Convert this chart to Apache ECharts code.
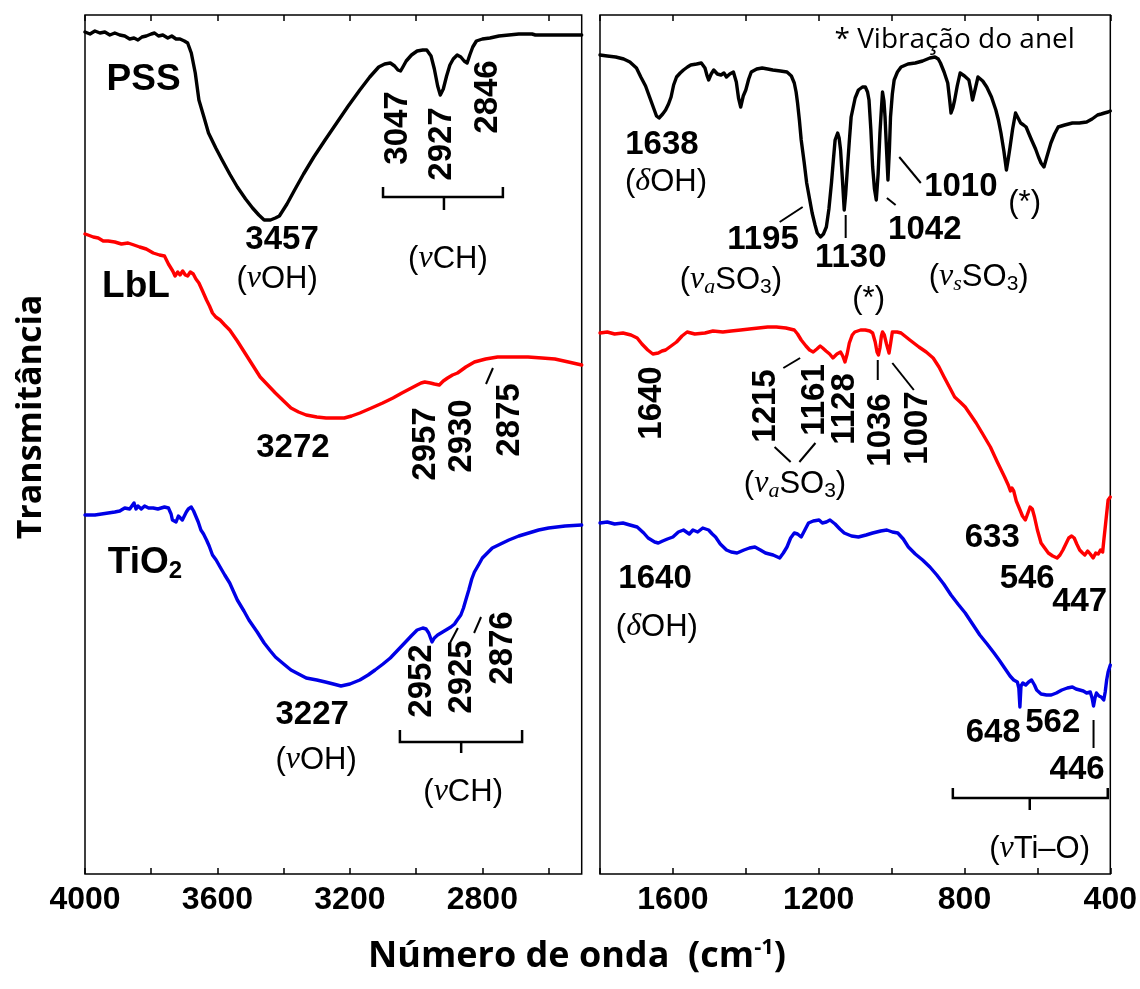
<!DOCTYPE html>
<html>
<head>
<meta charset="utf-8">
<script src="https://cdn.jsdelivr.net/npm/echarts@6/dist/echarts.min.js"></script>
<style>
  html, body { margin: 0; padding: 0; background: #fff; }
  #chart { width: 1140px; height: 989px; }
</style>
</head>
<body>
<div id="chart"></div>
<script>
// FTIR spectra: [wavenumber (cm-1), transmittance (offset, a.u.)]
// High-wavenumber window (4000-2500 cm-1)
const pssHigh = [[4000,84.2],[3985,84.0],[3970,84.3],[3955,84.1],[3940,84.2],[3925,83.9],[3910,84.1],[3895,83.9],[3880,83.8],[3865,83.5],[3852,83.6],[3840,83.4],[3828,83.7],[3815,83.8],[3800,84.0],[3790,84.1],[3778,83.8],[3765,83.9],[3750,83.6],[3738,83.8],[3725,83.5],[3713,83.5],[3700,83.3],[3690,83.1],[3679,82.1],[3667,80.1],[3656,77.4],[3640,75.6],[3627,74.1],[3605,72.6],[3586,71.4],[3563,70.0],[3540,68.7],[3515,67.5],[3494,66.6],[3475,65.9],[3459,65.4],[3440,65.4],[3425,65.6],[3413,65.8],[3390,67.0],[3367,68.4],[3340,70.0],[3309,71.7],[3275,73.4],[3240,75.1],[3205,76.8],[3170,78.4],[3140,79.7],[3113,80.7],[3095,81.0],[3078,81.1],[3065,80.8],[3055,80.4],[3047,80.3],[3040,80.7],[3030,81.3],[3014,81.9],[2997,82.3],[2980,82.4],[2968,82.4],[2955,81.8],[2945,80.5],[2935,78.8],[2927,77.9],[2918,78.5],[2908,79.8],[2898,80.9],[2888,81.5],[2876,81.9],[2865,81.7],[2855,81.3],[2846,81.1],[2838,81.9],[2829,82.7],[2818,83.3],[2800,83.5],[2777,83.6],[2750,83.8],[2720,83.9],[2690,84.0],[2650,84.0],[2640,83.9],[2600,83.9],[2550,83.9],[2500,83.9]];
const lblHigh = [[4000,64.0],[3991,63.9],[3975,63.7],[3960,63.6],[3945,63.3],[3930,63.3],[3910,63.2],[3890,63.0],[3870,63.1],[3852,62.9],[3835,62.7],[3815,62.5],[3794,62.1],[3775,61.9],[3760,61.8],[3754,61.6],[3748,61.0],[3742,61.2],[3735,60.3],[3728,59.8],[3720,60.2],[3713,59.9],[3705,60.3],[3697,59.9],[3690,59.8],[3682,60.2],[3673,60.0],[3665,59.5],[3656,59.1],[3645,58.3],[3633,57.4],[3624,56.8],[3615,56.1],[3605,55.7],[3592,55.4],[3578,54.9],[3563,54.4],[3540,53.3],[3517,52.1],[3494,50.9],[3471,49.7],[3448,48.9],[3425,48.1],[3400,47.3],[3378,46.6],[3355,46.2],[3332,45.9],[3300,45.7],[3272,45.6],[3245,45.6],[3217,45.6],[3195,45.8],[3170,46.1],[3135,46.6],[3101,47.1],[3070,47.6],[3043,48.1],[3020,48.5],[2997,48.9],[2985,49.1],[2974,49.2],[2957,49.1],[2945,49.0],[2930,48.9],[2918,49.3],[2905,49.6],[2890,49.9],[2875,50.1],[2850,50.7],[2824,51.2],[2790,51.5],[2754,51.7],[2700,51.7],[2662,51.7],[2620,51.6],[2581,51.5],[2540,51.2],[2500,50.9]];
const tio2High = [[4000,35.9],[3991,35.9],[3970,35.9],[3950,36.0],[3930,36.1],[3910,36.2],[3895,36.3],[3880,36.6],[3865,36.5],[3852,37.1],[3846,36.5],[3840,36.8],[3830,36.5],[3820,36.8],[3808,36.6],[3794,36.6],[3780,36.5],[3760,36.7],[3748,36.6],[3740,36.0],[3736,35.4],[3730,35.6],[3725,35.2],[3718,35.8],[3713,35.7],[3706,35.4],[3700,35.6],[3694,36.2],[3688,36.5],[3679,36.7],[3672,36.3],[3667,36.1],[3658,35.2],[3650,34.4],[3642,34.0],[3633,33.4],[3625,32.8],[3615,31.9],[3604,31.4],[3592,30.7],[3578,29.9],[3563,29.1],[3540,27.4],[3520,26.3],[3505,25.4],[3480,24.2],[3459,23.1],[3440,22.3],[3425,21.7],[3400,21.0],[3378,20.4],[3355,20.0],[3332,19.6],[3300,19.4],[3274,19.2],[3250,19.0],[3227,18.8],[3200,19.0],[3170,19.4],[3145,19.9],[3124,20.4],[3100,21.0],[3078,21.6],[3055,22.4],[3032,23.2],[3015,23.8],[2997,24.4],[2980,24.6],[2970,24.5],[2962,24.1],[2952,23.2],[2945,23.6],[2935,23.9],[2925,24.1],[2910,24.4],[2895,24.7],[2884,25.0],[2876,25.4],[2865,25.9],[2857,26.6],[2850,27.4],[2841,28.4],[2832,29.5],[2824,30.2],[2810,31.0],[2800,31.6],[2785,32.1],[2770,32.6],[2745,33.0],[2720,33.4],[2690,33.8],[2660,34.1],[2630,34.4],[2600,34.6],[2550,34.8],[2500,34.9]];

// Low-wavenumber window (1800-400 cm-1)
const pssLow = [[1800,81.9],[1780,81.8],[1757,81.7],[1735,81.5],[1718,81.2],[1700,80.6],[1688,79.7],[1675,78.8],[1664,77.7],[1652,76.5],[1645,75.8],[1638,75.6],[1628,76.0],[1620,76.4],[1612,77.0],[1605,77.7],[1598,78.9],[1590,79.7],[1580,80.1],[1571,80.4],[1560,80.7],[1551,80.9],[1535,81.0],[1522,81.1],[1512,80.6],[1506,79.8],[1502,79.4],[1495,80.0],[1488,80.4],[1478,80.0],[1468,79.9],[1460,80.1],[1453,79.7],[1444,80.0],[1434,80.2],[1426,79.2],[1420,77.6],[1414,76.7],[1407,77.8],[1400,78.4],[1392,79.5],[1385,80.2],[1370,80.5],[1355,80.6],[1340,80.5],[1326,80.4],[1305,80.3],[1287,80.2],[1275,79.8],[1267,79.1],[1262,78.2],[1258,77.1],[1253,75.4],[1248,73.4],[1240,71.2],[1233,69.1],[1225,67.5],[1218,66.1],[1210,64.9],[1204,64.1],[1195,63.7],[1187,64.0],[1179,64.7],[1172,66.5],[1165,69.1],[1160,71.3],[1155,73.4],[1148,74.1],[1144,73.6],[1140,72.4],[1135,69.5],[1130,66.4],[1126,68.0],[1121,70.7],[1116,73.3],[1111,75.7],[1100,77.6],[1091,78.4],[1080,78.7],[1072,78.7],[1066,78.2],[1062,77.4],[1057,74.5],[1052,70.7],[1047,68.5],[1042,67.4],[1037,70.0],[1032,74.1],[1028,76.5],[1025,78.2],[1021,77.3],[1018,75.7],[1014,72.5],[1010,69.4],[1006,72.5],[1003,75.7],[998,78.0],[993,79.4],[984,80.2],[974,80.7],[955,81.0],[935,81.1],[915,81.3],[895,81.6],[881,81.7],[872,81.5],[866,81.1],[856,80.2],[846,79.1],[841,77.5],[837,76.1],[832,76.6],[827,77.4],[820,78.8],[812,80.1],[800,79.8],[788,79.4],[783,78.5],[778,77.4],[770,78.6],[763,79.7],[750,79.3],[739,78.7],[726,77.7],[714,76.4],[707,75.4],[700,74.1],[692,72.3],[685,70.4],[680,71.5],[675,72.7],[668,74.5],[660,76.1],[653,75.6],[646,75.1],[638,74.9],[631,74.7],[623,74.0],[616,73.4],[605,72.5],[597,71.7],[590,71.1],[582,70.7],[575,71.6],[563,73.1],[553,74.0],[543,74.7],[525,74.9],[504,75.1],[485,75.1],[465,75.2],[450,75.5],[435,75.9],[425,76.0],[416,76.1],[406,76.2],[400,76.3]];
const lblLow = [[1800,54.1],[1780,54.2],[1760,54.0],[1737,54.1],[1715,53.9],[1698,53.6],[1685,53.0],[1669,52.4],[1655,52.0],[1640,52.1],[1630,52.3],[1620,52.4],[1605,52.8],[1590,53.2],[1575,53.8],[1561,54.2],[1540,54.0],[1512,54.1],[1490,54.3],[1463,54.2],[1440,54.3],[1414,54.4],[1390,54.5],[1365,54.6],[1340,54.7],[1316,54.7],[1290,54.6],[1267,54.4],[1258,54.0],[1248,53.4],[1235,52.8],[1225,52.4],[1215,52.2],[1205,52.5],[1196,52.8],[1189,52.6],[1180,52.3],[1170,52.0],[1161,51.6],[1150,52.0],[1140,52.2],[1134,51.8],[1128,51.2],[1122,52.0],[1116,53.1],[1108,53.9],[1101,54.2],[1085,54.4],[1072,54.4],[1060,54.3],[1052,54.1],[1045,53.2],[1040,52.2],[1036,51.9],[1032,52.6],[1028,53.8],[1025,54.2],[1020,53.9],[1014,53.0],[1007,52.1],[1003,53.0],[998,54.2],[985,54.2],[974,54.1],[950,53.4],[925,52.7],[905,52.2],[886,51.6],[870,50.7],[856,49.7],[840,48.6],[827,47.7],[812,47.2],[798,46.7],[783,45.9],[768,45.1],[750,44.0],[729,42.7],[710,41.2],[690,39.7],[680,38.9],[674,38.3],[670,38.6],[665,38.3],[658,37.3],[650,36.6],[641,35.8],[633,35.4],[627,36.0],[620,36.7],[614,36.5],[608,35.7],[600,34.4],[590,33.1],[580,32.6],[570,32.1],[558,31.8],[546,31.6],[538,31.9],[530,32.4],[522,33.0],[514,33.6],[506,33.8],[499,33.6],[492,33.0],[484,32.4],[476,32.1],[470,31.9],[462,32.3],[455,32.0],[447,31.6],[440,32.1],[433,32.0],[427,32.4],[421,32.2],[418,33.3],[413,35.0],[406,37.4],[400,37.7]];
const tio2Low = [[1800,35.1],[1780,35.2],[1760,35.0],[1737,35.1],[1718,34.9],[1698,34.7],[1680,34.1],[1668,33.6],[1659,33.4],[1650,33.2],[1640,33.1],[1628,33.3],[1615,33.5],[1600,33.7],[1585,34.2],[1571,34.4],[1555,34.0],[1545,34.4],[1532,34.2],[1518,34.6],[1502,34.4],[1492,34.0],[1483,33.7],[1470,33.0],[1453,32.4],[1440,32.2],[1424,32.1],[1405,32.4],[1390,32.6],[1375,32.7],[1360,32.4],[1346,32.1],[1325,31.9],[1307,31.6],[1297,32.1],[1287,32.7],[1277,33.6],[1267,34.1],[1258,34.0],[1248,33.7],[1238,34.4],[1228,35.1],[1215,35.3],[1199,35.4],[1190,35.1],[1179,35.2],[1169,35.4],[1155,35.0],[1142,34.5],[1130,34.1],[1110,33.8],[1091,33.7],[1070,33.9],[1052,34.1],[1030,34.3],[1013,34.4],[998,34.2],[983,34.1],[968,33.5],[954,32.7],[935,32.0],[915,31.4],[895,30.7],[876,29.9],[857,29.0],[837,27.9],[818,27.0],[798,26.1],[778,25.0],[758,23.9],[738,23.0],[719,22.1],[705,21.4],[690,20.6],[675,19.8],[665,19.4],[655,19.2],[651,18.6],[648,16.7],[645,18.8],[640,19.1],[632,18.9],[624,19.2],[616,19.4],[608,18.9],[602,18.4],[590,18.0],[575,17.9],[562,17.9],[548,18.1],[533,18.4],[518,18.6],[504,18.7],[494,18.5],[484,18.4],[474,18.3],[465,18.1],[455,18.2],[450,17.6],[446,16.8],[442,17.6],[438,18.1],[431,17.8],[425,17.7],[418,17.4],[414,18.2],[410,19.4],[406,20.2],[400,20.9]];

const sampleNames = ['PSS', 'LbL', 'TiO{s|2}'];
const sampleColors = ['#000000', '#ff0000', '#0000e6'];

// Axis ticks and labels
const highTicks = [2600, 2800, 3000, 3200, 3400, 3600, 3800, 4000];
const highLabels = [2800, 3200, 3600, 4000];
const lowTicks = [400, 600, 800, 1000, 1200, 1400, 1600, 1800];
const lowLabels = [400, 800, 1200, 1600];

// Band assignments: panel (0 high / 1 low), anchor [wavenumber, T], text, kind, rotated
const bandLabels = [
  [0, [3823, 79.4], sampleNames[0], 'name', false],
  [0, [3846, 58.7], sampleNames[1], 'name', false],
  [0, [3819, 31.1], sampleNames[2], 'name', false],
  [0, [3405, 63.4], '3457', 'num', false],
  [0, [3420, 59.5], '({v|v}OH)', 'par', false],
  [0, [3055, 74.6], '3047', 'num', true],
  [0, [2922, 73.0], '2927', 'num', true],
  [0, [2783, 77.7], '2846', 'num', true],
  [0, [2904, 61.5], '({v|v}CH)', 'par', false],
  [0, [3372, 42.6], '3272', 'num', false],
  [0, [2970, 43.0], '2957', 'num', true],
  [0, [2861, 43.8], '2930', 'num', true],
  [0, [2717, 45.4], '2875', 'num', true],
  [0, [3314, 15.9], '3227', 'num', false],
  [0, [3302, 11.4], '({v|v}OH)', 'par', false],
  [0, [2982, 19.3], '2952', 'num', true],
  [0, [2861, 19.7], '2925', 'num', true],
  [0, [2738, 22.6], '2876', 'num', true],
  [0, [2858, 8.2], '({v|v}CH)', 'par', false],
  [1, [827, 83.4], '* Vibração do anel', 'note', false],
  [1, [1630, 72.9], '1638', 'num', false],
  [1, [1619, 69.2], '({v|δ}OH)', 'par', false],
  [1, [1353, 63.4], '1195', 'num', false],
  [1, [1441, 59.4], '({v|v}{vs|a}SO{s|3})', 'par', false],
  [1, [1112, 61.6], '1130', 'num', false],
  [1, [1063, 57.5], '(*)', 'par', false],
  [1, [909, 64.4], '1042', 'num', false],
  [1, [761, 59.7], '({v|v}{vs|s}SO{s|3})', 'par', false],
  [1, [810, 68.7], '1010', 'num', false],
  [1, [635, 67.1], '(*)', 'par', false],
  [1, [1657, 47.1], '1640', 'num', true],
  [1, [1345, 46.8], '1215', 'num', true],
  [1, [1211, 47.4], '1161', 'num', true],
  [1, [1128, 46.5], '1128', 'num', true],
  [1, [1030, 44.4], '1036', 'num', true],
  [1, [927, 44.6], '1007', 'num', true],
  [1, [1265, 39.0], '({v|v}{vs|a}SO{s|3})', 'par', false],
  [1, [724, 33.6], '633', 'num', false],
  [1, [628, 29.5], '546', 'num', false],
  [1, [484, 27.2], '447', 'num', false],
  [1, [1649, 29.5], '1640', 'num', false],
  [1, [1644, 24.7], '({v|δ}OH)', 'par', false],
  [1, [721, 14.1], '648', 'num', false],
  [1, [558, 15.1], '562', 'num', false],
  [1, [491, 10.4], '446', 'num', false],
  [1, [594, 2.5], '({v|v}Ti–O)', 'par', false]
];

// Leader strokes from band to its label
const leaders = [
  [0, [[2789, 49.0], [2768, 50.6]]],
  [0, [[2901, 22.9], [2874, 24.6]]],
  [0, [[2825, 24.1], [2804, 25.7]]],
  [1, [[1307, 65.2], [1244, 66.7]]],
  [1, [[1126, 65.9], [1126, 63.6]]],
  [1, [[1013, 67.6], [989, 66.9]]],
  [1, [[979, 71.7], [920, 69.1]]],
  [1, [[1297, 50.6], [1251, 51.6]]],
  [1, [[1321, 42.7], [1277, 41.2]]],
  [1, [[1253, 41.2], [1209, 43.1]]],
  [1, [[1038, 51.4], [1038, 49.4]]],
  [1, [[998, 51.1], [939, 48.4]]],
  [1, [[446, 15.4], [446, 12.6]]]
];

// Group braces: panel, from, to, base T, arm T, centre, stem T
const braces = [
  [0, 3100, 2738, 67.7, 68.7, 2916, 66.4],
  [0, 3049, 2680, 13.2, 14.4, 2864, 12.1],
  [1, 832, 407, 7.6, 8.6, 621, 6.4]
];

const numFont = 'Liberation Sans, Arial, sans-serif';
const titleFont = 'Open Sans, Noto Sans, sans-serif';

function xAxisPair(gridIndex, min, max, ticks, labels) {
  const tick = { show: true, inside: true, length: 6, customValues: ticks, lineStyle: { color: '#000', width: 1.5 } };
  return [
    {
      gridIndex, type: 'value', min, max, inverse: true, position: 'bottom',
      axisLine: { show: false }, splitLine: { show: false },
      axisTick: tick,
      axisLabel: {
        customValues: labels, formatter: v => String(v),
        fontFamily: numFont, fontWeight: 'bold', fontSize: 32, color: '#000', margin: 10
      }
    },
    {
      gridIndex, type: 'value', min, max, inverse: true, position: 'top',
      axisLine: { show: false }, splitLine: { show: false },
      axisTick: tick, axisLabel: { show: false }
    }
  ];
}

const grids = [
  { left: 85, top: 15, width: 496.7, height: 859 },
  { left: 600, top: 15, width: 510.7, height: 859 }
].map(g => Object.assign(g, { show: true, borderColor: '#000', borderWidth: 1.5, backgroundColor: 'transparent' }));

const spectra = [pssHigh, lblHigh, tio2High, pssLow, lblLow, tio2Low];

const option = {
  animation: false,
  backgroundColor: '#fff',
  grid: grids,
  xAxis: [
    ...xAxisPair(0, 2500, 4000, highTicks, highLabels),
    ...xAxisPair(1, 400, 1800, lowTicks, lowLabels)
  ],
  yAxis: [
    { gridIndex: 0, type: 'value', min: 0, max: 85.9, show: false },
    { gridIndex: 1, type: 'value', min: 0, max: 85.9, show: false }
  ],
  series: spectra.map((data, i) => ({
    type: 'line',
    xAxisIndex: i < 3 ? 0 : 2,
    yAxisIndex: i < 3 ? 0 : 1,
    data,
    showSymbol: false,
    symbol: 'none',
    silent: true,
    lineStyle: { color: sampleColors[i % 3], width: 3.4, join: 'round', cap: 'round' }
  }))
};

const chart = echarts.init(document.getElementById('chart'));
chart.setOption(option);

const toPx = (panel, p) => chart.convertToPixel({ seriesIndex: panel === 0 ? 0 : 3 }, p);

const richStyles = {
  v: { fontFamily: 'Liberation Serif, serif', fontStyle: 'italic', fontSize: 32, lineHeight: 36 },
  vs: { fontFamily: 'Liberation Serif, serif', fontStyle: 'italic', fontSize: 22, lineHeight: 20, verticalAlign: 'bottom' },
  s: { fontFamily: numFont, fontSize: 21, lineHeight: 20, verticalAlign: 'bottom' }
};

const kindStyle = {
  num: { fontFamily: numFont, fontWeight: 'bold', fontSize: 33, lineHeight: 36 },
  name: { fontFamily: numFont, fontWeight: 'bold', fontSize: 37, lineHeight: 40 },
  par: { fontFamily: numFont, fontWeight: 'normal', fontSize: 31, lineHeight: 36 },
  note: { fontFamily: titleFont, fontWeight: 'normal', fontSize: 28, lineHeight: 32 }
};

const graphics = [];

bandLabels.forEach(([panel, at, text, kind, rotated]) => {
  const [x, y] = toPx(panel, at);
  const base = kindStyle[kind];
  const rich = {
    v: Object.assign({}, richStyles.v),
    vs: Object.assign({}, richStyles.vs),
    s: Object.assign({}, richStyles.s, { fontWeight: base.fontWeight, fontSize: kind === 'name' ? 24 : 21, lineHeight: kind === 'name' ? 22 : 20 })
  };
  graphics.push({
    type: 'text', x, y, rotation: rotated ? Math.PI / 2 : 0, silent: true, z: 50,
    style: Object.assign({ text, fill: '#000', align: 'center', verticalAlign: 'middle', rich }, base)
  });
});

leaders.forEach(([panel, pts]) => {
  graphics.push({
    type: 'polyline', silent: true, z: 50,
    shape: { points: pts.map(p => toPx(panel, p)) },
    style: { stroke: '#000', lineWidth: 2, fill: null }
  });
});

braces.forEach(([panel, from, to, base, arm, centre, stem]) => {
  graphics.push({
    type: 'polyline', silent: true, z: 50,
    shape: { points: [[from, arm], [from, base], [to, base], [to, arm]].map(p => toPx(panel, p)) },
    style: { stroke: '#000', lineWidth: 2.5, fill: null }
  });
  graphics.push({
    type: 'polyline', silent: true, z: 50,
    shape: { points: [[centre, base], [centre, stem]].map(p => toPx(panel, p)) },
    style: { stroke: '#000', lineWidth: 2.5, fill: null }
  });
});

// Axis titles
graphics.push({
  type: 'text', x: 577, y: 957, silent: true,
  style: {
    text: 'Número de onda  (cm{sup|-1})', fill: '#000', align: 'center', verticalAlign: 'middle',
    fontFamily: titleFont, fontWeight: 'bold', fontSize: 36, lineHeight: 40,
    rich: { sup: { fontFamily: titleFont, fontWeight: 'bold', fontSize: 22, lineHeight: 20, verticalAlign: 'top' } }
  }
});
graphics.push({
  type: 'text', x: 31, y: 417, rotation: Math.PI / 2, silent: true,
  style: {
    text: 'Transmitância', fill: '#000', align: 'center', verticalAlign: 'middle',
    fontFamily: titleFont, fontWeight: 'bold', fontSize: 34
  }
});

chart.setOption({ graphic: graphics });
</script>
</body>
</html>
